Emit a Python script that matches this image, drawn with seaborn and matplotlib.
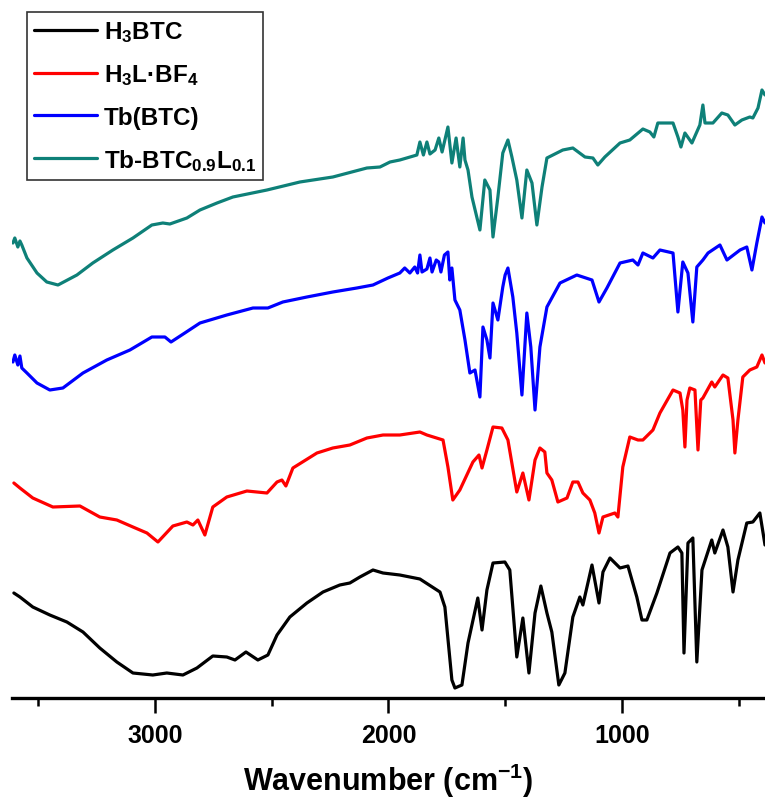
import numpy as np
import pandas as pd
import matplotlib
matplotlib.use("Agg")
import matplotlib.pyplot as plt
import seaborn as sns

# ---- data (wavenumber in cm^-1, offset transmittance in a.u.) ----
h3btc_wn = [3604, 3578, 3523, 3450, 3377, 3308, 3236, 3163, 3094, 3009, 2949, 2880, 2820,
            2752, 2692, 2657, 2610, 2559, 2516, 2477, 2422, 2349, 2280, 2208, 2165, 2122,
            2066, 2023, 1951, 1865, 1779, 1758, 1728, 1715, 1685, 1659, 1617, 1599, 1578,
            1552, 1501, 1480, 1450, 1424, 1398, 1372, 1347, 1321, 1300, 1270, 1244, 1210,
            1180, 1167, 1128, 1098, 1081, 1051, 1008, 974, 936, 914, 893, 850, 794, 760,
            743, 734, 717, 696, 679, 657, 615, 602, 567, 546, 524, 503, 465, 439, 409, 387]
h3btc_t = [107, 103, 93, 85, 78, 68, 52, 38, 27, 25, 27, 25, 32,
           44, 43, 40, 48, 40, 45, 65, 83, 97, 108, 115, 117, 123,
           130, 127, 125, 121, 108, 93, 20, 12, 15, 57, 102, 70, 110,
           137, 138, 130, 43, 82, 27, 87, 114, 87, 68, 15, 27, 83,
           103, 95, 135, 97, 128, 142, 132, 134, 103, 80, 80, 107, 147, 153,
           147, 47, 157, 162, 38, 130, 160, 147, 170, 153, 108, 140, 177, 178, 187, 155]

h3lbf4_wn = [3604, 3578, 3523, 3437, 3321, 3236, 3163, 3094, 3034, 2987, 2923, 2863, 2837,
             2816, 2786, 2752, 2692, 2606, 2520, 2477, 2456, 2439, 2409, 2306, 2238, 2165,
             2092, 2023, 1951, 1865, 1835, 1766, 1745, 1724, 1694, 1664, 1638, 1612, 1599,
             1578, 1552, 1514, 1488, 1450, 1424, 1398, 1372, 1351, 1330, 1321, 1300, 1274,
             1235, 1210, 1188, 1167, 1137, 1116, 1098, 1081, 1030, 1017, 996, 966, 931, 910,
             867, 837, 781, 751, 739, 730, 721, 709, 687, 674, 662, 653, 615, 602, 567, 546,
             524, 516, 503, 482, 452, 422, 400, 387]
h3lbf4_t = [217, 212, 202, 193, 194, 183, 180, 173, 167, 158, 174, 178, 175,
            180, 165, 193, 203, 209, 207, 218, 220, 214, 232, 247, 252, 255,
            262, 265, 265, 268, 265, 260, 233, 200, 210, 225, 238, 245, 232,
            250, 273, 272, 260, 208, 227, 200, 240, 252, 248, 227, 220, 198,
            202, 218, 218, 207, 200, 187, 167, 183, 187, 183, 233, 263, 260, 260,
            270, 287, 310, 307, 290, 253, 300, 312, 310, 250, 300, 302, 318, 313, 325, 322,
            280, 247, 280, 323, 330, 333, 345, 337]

tbbtc_wn = [3608, 3600, 3587, 3578, 3570, 3548, 3505, 3450, 3394, 3308, 3206, 3107, 3013,
            2957, 2931, 2872, 2807, 2692, 2580, 2516, 2452, 2349, 2238, 2135, 2066, 2002,
            1951, 1930, 1908, 1887, 1875, 1865, 1856, 1835, 1822, 1813, 1795, 1784, 1775,
            1760, 1745, 1737, 1728, 1715, 1694, 1672, 1651, 1629, 1608, 1595, 1578, 1565,
            1552, 1531, 1510, 1500, 1488, 1467, 1450, 1428, 1407, 1390, 1372, 1351, 1321,
            1265, 1193, 1128, 1098, 1064, 1008, 953, 931, 910, 867, 837, 781, 760, 739, 717,
            696, 679, 653, 631, 580, 550, 494, 465, 443, 422, 400, 387]
tbbtc_t = [338, 345, 335, 344, 332, 327, 317, 310, 312, 327, 340, 350, 363,
           363, 358, 367, 377, 385, 392, 392, 398, 403, 408, 412, 415, 422,
           427, 432, 427, 433, 427, 445, 428, 431, 442, 428, 440, 438, 428,
           445, 448, 420, 432, 400, 390, 360, 327, 330, 303, 373, 360, 342,
           397, 380, 413, 425, 432, 403, 367, 305, 387, 353, 290, 353, 393,
           417, 425, 420, 398, 412, 437, 440, 435, 447, 442, 450, 447, 388, 438, 427,
           378, 433, 440, 447, 455, 440, 450, 453, 430, 457, 483, 477]

tbl_wn = [3608, 3600, 3587, 3578, 3570, 3548, 3505, 3463, 3415, 3334, 3266, 3180, 3094,
          3013, 2966, 2936, 2863, 2807, 2734, 2666, 2520, 2379, 2238, 2092, 2036, 1993,
          1951, 1878, 1865, 1850, 1835, 1822, 1800, 1784, 1770, 1745, 1728, 1710, 1694,
          1680, 1672, 1659, 1642, 1608, 1587, 1565, 1552, 1531, 1510, 1488, 1471, 1450,
          1428, 1407, 1385, 1364, 1342, 1321, 1253, 1210, 1158, 1124, 1103, 1073, 1008,
          966, 910, 880, 863, 846, 781, 760, 747, 730, 700, 666, 653, 644, 610, 572, 546,
          516, 486, 452, 439, 417, 400, 387]
tbl_t = [457, 462, 453, 459, 455, 442, 427, 418, 415, 425, 437, 450, 462,
         475, 477, 476, 482, 490, 497, 503, 510, 518, 523, 532, 533, 538,
         540, 545, 558, 545, 558, 546, 550, 562, 548, 573, 537, 562, 533,
         562, 540, 530, 503, 470, 520, 510, 463, 503, 547, 560, 543, 520,
         482, 530, 517, 475, 513, 542, 550, 552, 543, 542, 535, 543, 557,
         560, 571, 568, 563, 577, 577, 563, 553, 567, 557, 575, 595, 577, 577, 587, 585,
         575, 580, 583, 582, 592, 610, 605]

labels = ["H$_3$BTC", "H$_3$L·BF$_4$", "Tb(BTC)", "Tb-BTC$_{0.9}$L$_{0.1}$"]
colors = ["#000000", "#ff0000", "#0000ff", "#0e8078"]
x_major = [3000, 2000, 1000]
x_minor = [3500, 2500, 1500, 500]

series = [(h3btc_wn, h3btc_t), (h3lbf4_wn, h3lbf4_t), (tbbtc_wn, tbbtc_t), (tbl_wn, tbl_t)]

# ---- style ----
sns.set_theme(style="white")
plt.rcParams["font.family"] = ["Liberation Sans", "DejaVu Sans"]
plt.rcParams["font.weight"] = "bold"
plt.rcParams["text.color"] = "black"
plt.rcParams["axes.labelcolor"] = "black"
plt.rcParams["xtick.color"] = "black"
plt.rcParams["mathtext.fontset"] = "custom"
plt.rcParams["mathtext.rm"] = "Liberation Sans:bold"
plt.rcParams["mathtext.it"] = "Liberation Sans:bold"
plt.rcParams["mathtext.bf"] = "Liberation Sans:bold"

fig = plt.figure(figsize=(7.65, 8.03), dpi=100)
ax = fig.add_axes([12 / 765, (803 - 699) / 803, 1 - 12 / 765, 699 / 803])

for (wn, t), lab, col in zip(series, labels, colors):
    df = pd.DataFrame({"wn": wn, "t": t})
    sns.lineplot(data=df, x="wn", y="t", ax=ax, color=col, lw=2.3, label=lab,
                 sort=False, estimator=None)

ax.set_xlim(3612, 387)
ax.set_ylim(2, 701)
ax.set_xticks(x_major)
ax.set_xticks(x_minor, minor=True)
ax.set_yticks([])
for s in ["top", "left", "right"]:
    ax.spines[s].set_visible(False)
ax.spines["bottom"].set_linewidth(2.4)
ax.spines["bottom"].set_color("black")
ax.tick_params(axis="x", which="major", direction="out", length=11, width=1.8,
               color="black", bottom=True, pad=7, labelsize=18, labelcolor="black")
ax.tick_params(axis="x", which="minor", direction="out", length=6, width=1.8,
               color="black", bottom=True)
for lbl in ax.get_xticklabels():
    lbl.set_fontweight("bold")
ax.set_xlabel("Wavenumber (cm$^{-1}$)", fontsize=22, fontweight="bold", labelpad=10,
              color="black")
ax.set_ylabel("")

leg = ax.legend(loc="upper left", bbox_to_anchor=(27 / 765, 1 - 13 / 803),
                bbox_transform=fig.transFigure, borderaxespad=0, frameon=True,
                fancybox=False, edgecolor="black", fontsize=17.5, handlelength=2.6,
                handletextpad=0.25, labelspacing=0.75, borderpad=0.3)
leg.get_frame().set_linewidth(1.2)
for line in leg.get_lines():
    line.set_linewidth(2.3)
for txt in leg.get_texts():
    txt.set_fontweight("bold")
    txt.set_color("black")

fig.savefig("out.png", dpi=100)
